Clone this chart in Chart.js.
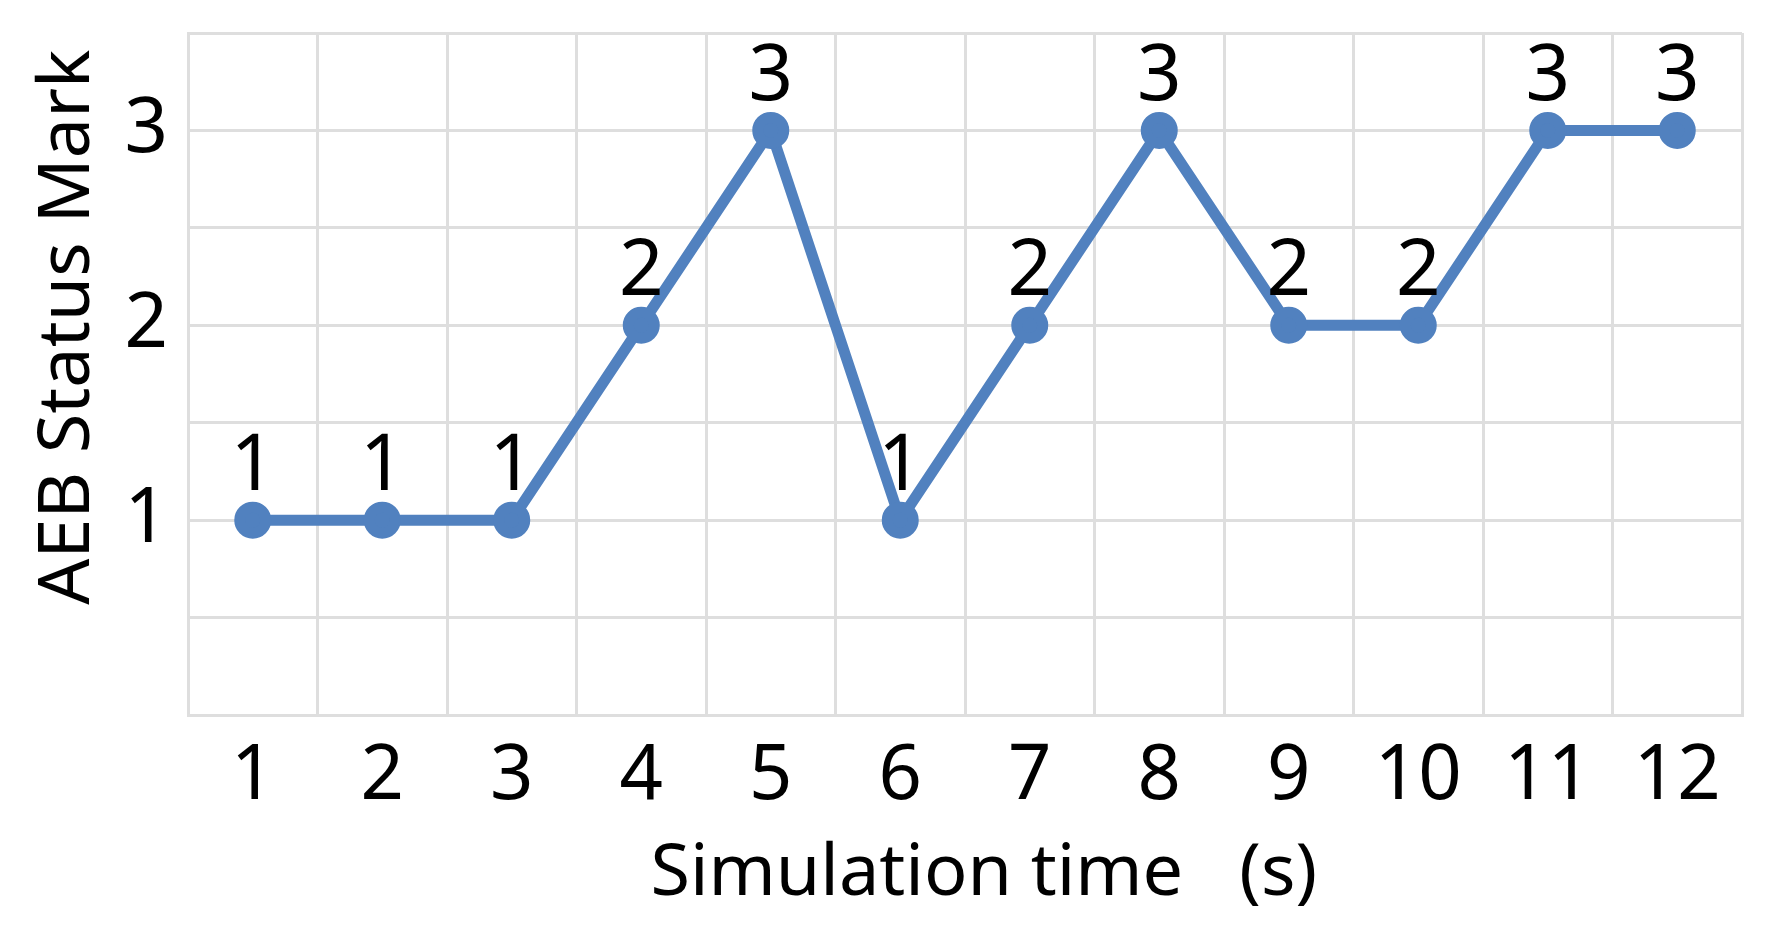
<!DOCTYPE html>
<html>
<head>
<meta charset="utf-8">
<script src="https://cdn.jsdelivr.net/npm/chart.js@4/dist/chart.umd.min.js"></script>
<style>
  html, body { margin: 0; padding: 0; background: #fff; }
  #wrap { width: 1772px; height: 931px; }
</style>
</head>
<body>
<div id="wrap"><canvas id="aebChart"></canvas></div>
<script>
// AEB status over simulation time
const timeLabels = ["1", "2", "3", "4", "5", "6", "7", "8", "9", "10", "11", "12"];
const statusMarks = [1, 1, 1, 2, 3, 1, 2, 3, 2, 2, 3, 3];
const yTickLabels = [1, 2, 3];

const FONT = "'Noto Sans', sans-serif";
const gridColor = "#dedede";

// draws the value above each point
const pointLabels = {
  id: "pointLabels",
  afterDatasetsDraw(chart) {
    const ctx = chart.ctx;
    const meta = chart.getDatasetMeta(0);
    ctx.save();
    ctx.font = "78px " + FONT;
    ctx.fillStyle = "#000";
    ctx.textAlign = "center";
    ctx.textBaseline = "alphabetic";
    meta.data.forEach((pt, i) => {
      ctx.fillText(String(statusMarks[i]), pt.x, pt.y - 30);
    });
    ctx.restore();
  }
};

new Chart(document.getElementById("aebChart").getContext("2d"), {
  type: "line",
  data: {
    labels: timeLabels,
    datasets: [{
      data: statusMarks,
      borderColor: "#5181bf",
      backgroundColor: "#5181bf",
      borderWidth: 11,
      pointRadius: 13,
      pointHoverRadius: 13,
      tension: 0,
      fill: false
    }]
  },
  options: {
    responsive: true,
    maintainAspectRatio: false,
    animation: false,
    layout: { padding: { left: 20, right: 30, top: 33, bottom: 0 } },
    plugins: { legend: { display: false }, tooltip: { enabled: false } },
    scales: {
      x: {
        type: "category",
        offset: true,
        grid: { offset: true, color: gridColor, lineWidth: 3, drawTicks: false },
        border: { color: gridColor, width: 3 },
        ticks: { color: "#000", padding: 17, font: { family: FONT, size: 76 } },
        title: {
          display: true,
          text: "  Simulation time   (s)",
          color: "#000",
          padding: { top: 0, bottom: 13 },
          font: { family: FONT, size: 72 }
        },
        afterFit(scale) { scale.height = 216; }
      },
      y: {
        min: 0,
        max: 3.5,
        grid: { color: gridColor, lineWidth: 3, drawTicks: false },
        border: { color: gridColor, width: 3 },
        ticks: {
          stepSize: 0.5,
          color: "#000",
          padding: 20,
          font: { family: FONT, size: 76, lineHeight: 0.2 },
          callback: (v) => yTickLabels.includes(v) ? String(v) : ""
        },
        title: {
          display: true,
          text: "     AEB Status Mark",
          color: "#000",
          padding: { top: 5, bottom: 0 },
          font: { family: FONT, size: 72 }
        },
        afterFit(scale) { scale.width = 168; }
      }
    }
  },
  plugins: [pointLabels]
});
</script>
</body>
</html>
